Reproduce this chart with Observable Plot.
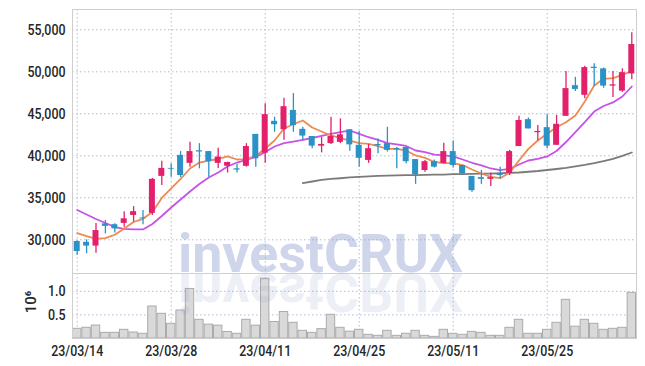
<!DOCTYPE html>
<html><head><meta charset="utf-8">
<script src="https://cdn.jsdelivr.net/npm/d3@7"></script>
<script src="https://cdn.jsdelivr.net/npm/@observablehq/plot@0.6"></script>
<style>
body{margin:0;background:#fff;}
#wrap{position:relative;width:645px;height:366px;overflow:hidden;background:#fff;}
#wrap svg{display:block}
#wm{position:absolute;left:0;top:0;pointer-events:none}
</style></head><body><div id="wrap"></div>
<script>
const dates = ["23/03/14","23/03/15","23/03/16","23/03/17","23/03/20","23/03/21","23/03/22","23/03/23","23/03/24","23/03/27","23/03/28","23/03/29","23/03/30","23/03/31",
"23/04/03","23/04/04","23/04/05","23/04/06","23/04/07","23/04/10","23/04/11","23/04/12","23/04/13","23/04/14","23/04/17","23/04/18","23/04/19","23/04/20","23/04/21","23/04/24","23/04/25","23/04/26","23/04/27","23/04/28",
"23/05/02","23/05/03","23/05/04","23/05/08","23/05/09","23/05/10","23/05/11","23/05/12","23/05/15","23/05/16","23/05/17","23/05/18","23/05/19","23/05/22","23/05/23","23/05/24","23/05/25","23/05/26","23/05/30","23/05/31",
"23/06/01","23/06/02","23/06/05","23/06/07","23/06/08","23/06/09"];
const opens = [29800,29700,29250,31900,31800,31950,32900,32600,33150,37550,38500,40050,39100,40600,40500,39100,38750,38450,38750,42550,40300,44100,43100,45400,43150,42300,41150,41450,41600,43100,41250,39450,41350,41450,40850,41000,39550,38250,39300,39100,40500,38850,37550,37400,37200,37850,37900,41100,44300,42750,43350,41250,44700,48350,47200,50550,50350,48300,47700,49750];
const highs = [29900,30000,31950,32300,31900,33350,33950,33500,37300,39350,39050,40500,41600,41450,40500,40900,39250,38950,41450,42550,46200,44600,46850,47400,43400,42300,42200,44600,44400,43100,42900,41350,42000,43400,41000,41000,39550,39450,39500,41500,41750,38850,37550,38250,37950,38650,40650,44700,44500,43600,44900,44800,50050,49350,50650,50950,50450,50050,50350,54650];
const lows = [28150,28350,28400,30700,30800,31500,32100,31800,32900,36450,37450,37400,38650,38450,37450,38500,37950,37950,38650,38650,39100,42800,41850,42800,41800,40850,40350,41350,41450,40550,38650,39100,40250,40450,38450,39050,36600,38050,38550,39050,38550,37750,35650,36600,36350,37250,37650,41100,43200,41800,40850,41250,44700,47650,46800,48250,48050,46950,47550,49050];
const closes = [28600,29250,31100,31600,31300,32500,33350,32500,37200,38500,38400,37650,40500,40450,39300,39850,39200,38300,41100,39650,44900,43700,45850,43600,42350,41150,41350,42300,42500,41300,39700,40850,41200,40650,40700,39300,37750,39300,38650,40500,38850,37850,35850,37200,37400,37650,40500,44200,43200,42900,41150,43750,48000,47900,50500,50400,48300,48450,49900,53250];
const volumes = [205000,227000,275000,120000,120000,184000,127000,100000,678000,523000,311000,593000,1050000,396000,293000,272000,138000,100000,396000,272000,1265000,350000,562000,332000,163000,120000,198000,502000,227000,145000,184000,78000,57000,163000,57000,100000,163000,57000,35000,184000,100000,78000,141000,120000,57000,57000,227000,396000,100000,100000,184000,332000,820000,250000,396000,311000,184000,205000,227000,968000];
const ma5 = [30800,30430,30120,30190,30600,31350,32120,32500,33310,34980,36110,37240,38490,39200,39440,39620,39920,39560,39600,39980,40870,41820,43250,43760,44200,43370,42890,42420,42100,41820,41500,41430,41140,40830,40830,40630,40040,39760,39260,39140,39140,38900,38370,37890,37480,37330,38000,39440,40830,41820,42620,43400,44000,44800,46460,48370,49170,49240,49640,50100];
const ma20 = [33550,33010,32480,32000,31520,31290,31230,31230,31880,32830,33850,34800,35750,36640,37420,38010,38730,39200,39520,39860,40450,41110,41500,41700,41900,42120,42360,42600,42810,43010,42620,42210,41900,41520,41350,41170,40630,40430,40150,40040,39920,39560,39170,38850,38490,38290,38450,38960,39440,39640,39920,40570,41640,42830,44020,45270,45930,46350,47060,48250];
const ma60 = [null,null,null,null,null,null,null,null,null,null,null,null,null,null,null,null,null,null,null,null,null,null,null,null,
36740,36940,37140,37260,37330,37420,37500,37560,37620,37650,37680,37690,37710,37740,37750,37770,37810,37830,37860,37870,37890,37920,37960,38010,38100,38190,38310,38430,38570,38750,38930,39140,39380,39640,39980,40390];
const tickDates = ["23/03/14","23/03/28","23/04/11","23/04/25","23/05/11","23/05/25"];
const priceTicks = [30000,35000,40000,45000,50000,55000];
const volumeTicks = [500000,1000000];
const volumeUnit = "10⁶";
const watermark = "investCRUX";

const UP = "#e3206b", DOWN = "#2a92c6";
const GRID = "#b3bbd6";
const FONT = "Roboto,'DejaVu Sans',sans-serif";

const rows = dates.map((d, i) => ({
  date: d, open: opens[i], high: highs[i], low: lows[i], close: closes[i],
  up: closes[i] >= opens[i], vol: volumes[i], ma5: ma5[i], ma20: ma20[i], ma60: ma60[i]
}));

const style = {fontFamily: FONT, fontSize: "15.5px", fontWeight: 500, color: "#262626", background: "transparent", overflow: "visible"};
const fmtPrice = d3.format(",");

const main = Plot.plot({
  width: 645, height: 273, marginTop: 9, marginBottom: 0, marginLeft: 72, marginRight: 9,
  style,
  x: {type: "band", domain: dates, padding: 0, round: false, axis: null},
  y: {domain: [25988, 57417], ticks: priceTicks, tickFormat: d => fmtPrice(d), tickSize: 0, tickPadding: 7, label: null},
  marks: [
    Plot.gridY(priceTicks, {stroke: GRID, strokeOpacity: 1, strokeDasharray: "1.5,2.5"}),
    Plot.gridX(tickDates, {stroke: GRID, strokeOpacity: 1, strokeDasharray: "1.5,2.5"}),
    Plot.frame({stroke: "#cfcfcf"}),
    Plot.line(rows, {x: "date", y: "ma60", stroke: "#7b7b7b", strokeWidth: 1.8}),
    Plot.line(rows, {x: "date", y: "ma20", stroke: "#c653e6", strokeWidth: 1.8}),
    Plot.line(rows, {x: "date", y: "ma5", stroke: "#ee8a52", strokeWidth: 1.8}),
    Plot.ruleX(rows, {x: "date", y1: "low", y2: "high", stroke: d => d.up ? UP : DOWN, strokeWidth: 1.3}),
    Plot.barY(rows, {x: "date", y1: "open", y2: "close", fill: d => d.up ? UP : DOWN, insetLeft: 1.7, insetRight: 1.7})
  ]
});

const vol = Plot.plot({
  width: 645, height: 93, marginTop: 0, marginBottom: 28, marginLeft: 72, marginRight: 9,
  style,
  x: {type: "band", domain: dates, padding: 0, round: false, ticks: tickDates, tickSize: 0, tickPadding: 6, label: null},
  y: {domain: [0, 1377000], ticks: volumeTicks, tickFormat: d => (d / 1e6).toFixed(1), tickSize: 0, tickPadding: 7, label: null},
  marks: [
    Plot.gridY(volumeTicks, {stroke: GRID, strokeOpacity: 1, strokeDasharray: "1.5,2.5"}),
    Plot.gridX(tickDates, {stroke: GRID, strokeOpacity: 1, strokeDasharray: "1.5,2.5"}),
    Plot.barY(rows, {x: "date", y: "vol", fill: "#d9d9d9", stroke: "#ababab", strokeWidth: 1, insetLeft: 0.5, insetRight: 0.5}),
    Plot.frame({stroke: "#cfcfcf"})
  ]
});

const wrap = document.getElementById("wrap");
wrap.appendChild(main);
wrap.appendChild(vol);

// narrow the axis tick labels to the condensed look of the reference
for (const svg of [main, vol]) {
  svg.querySelectorAll('g[aria-label$="tick label"] text').forEach(t => {
    const len = t.getComputedTextLength();
    t.setAttribute("textLength", (len * 0.8).toFixed(1));
    t.setAttribute("lengthAdjust", "spacingAndGlyphs");
  });
}

// overlay: unit label and watermark
const wm = d3.select(wrap).append("svg").attr("id", "wm").attr("width", 645).attr("height", 366);
wm.append("text").text(volumeUnit)
  .attr("transform", "translate(36,302) rotate(-90)")
  .attr("text-anchor", "middle")
  .attr("font-family", FONT).attr("font-size", 15).attr("font-weight", 500).attr("fill", "#262626");
wm.append("text").text(watermark)
  .attr("x", 178).attr("y", 272)
  .attr("textLength", 285).attr("lengthAdjust", "spacingAndGlyphs")
  .attr("font-family", FONT).attr("font-weight", "bold").attr("font-size", 53)
  .attr("fill", "#8c9bcc").attr("fill-opacity", 0.42);
wm.append("text").text(watermark)
  .attr("x", 178).attr("y", 272)
  .attr("transform", "translate(0,546) scale(1,-1)")
  .attr("textLength", 285).attr("lengthAdjust", "spacingAndGlyphs")
  .attr("font-family", FONT).attr("font-weight", "bold").attr("font-size", 53)
  .attr("fill", "#8c9bcc").attr("fill-opacity", 0.17);
</script>
</body></html>
